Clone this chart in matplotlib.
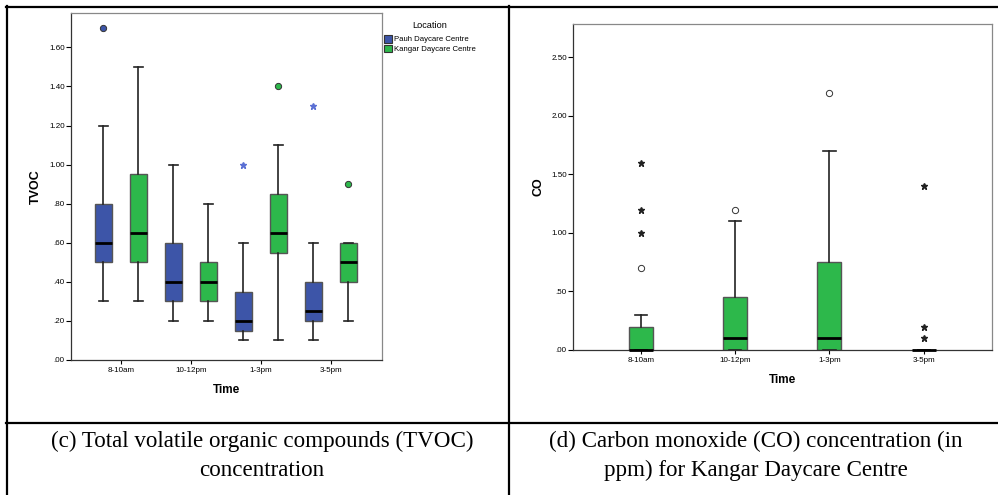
import numpy as np
import matplotlib.pyplot as plt
from matplotlib.lines import Line2D
from matplotlib.patches import Patch
from matplotlib.ticker import FuncFormatter

plt.rcParams['font.family'] = ['Liberation Sans', 'DejaVu Sans']

# 时间段
times = ['8-10am', '10-12pm', '1-3pm', '3-5pm']

# TVOC - Pauh Daycare Centre
pauh_low = [0.30, 0.20, 0.10, 0.10]
pauh_q1 = [0.50, 0.30, 0.15, 0.20]
pauh_med = [0.60, 0.40, 0.20, 0.25]
pauh_q3 = [0.80, 0.60, 0.35, 0.40]
pauh_high = [1.20, 1.00, 0.60, 0.60]
pauh_circles = [[1.70], [], [], []]
pauh_stars = [[], [], [1.00], [1.30]]

# TVOC - Kangar Daycare Centre
kangar_low = [0.30, 0.20, 0.10, 0.20]
kangar_q1 = [0.50, 0.30, 0.55, 0.40]
kangar_med = [0.65, 0.40, 0.65, 0.50]
kangar_q3 = [0.95, 0.50, 0.85, 0.60]
kangar_high = [1.50, 0.80, 1.10, 0.60]
kangar_circles = [[], [], [1.40], [0.90]]
kangar_stars = [[], [], [], []]

# CO - Kangar Daycare Centre
co_low = [0.0, 0.0, 0.0, 0.0]
co_q1 = [0.0, 0.0, 0.0, 0.0]
co_med = [0.0, 0.10, 0.10, 0.0]
co_q3 = [0.20, 0.45, 0.75, 0.0]
co_high = [0.30, 1.10, 1.70, 0.0]
co_circles = [[0.70], [1.20], [2.20], []]
co_stars = [[1.00, 1.20, 1.60], [], [], [0.10, 0.20, 1.40]]

tvoc_ticks = [0.0, 0.2, 0.4, 0.6, 0.8, 1.0, 1.2, 1.4, 1.6]
co_ticks = [0.0, 0.5, 1.0, 1.5, 2.0, 2.5]

blue = '#3d55a8'
green = '#2db84b'
star_blue = '#5b70d4'

def make_stats(low, q1, med, q3, high, circles):
    return [dict(whislo=a, q1=b, med=c, q3=d, whishi=e, fliers=f)
            for a, b, c, d, e, f in zip(low, q1, med, q3, high, circles)]

def spss_fmt(v, pos):
    s = '%.2f' % v
    if s.startswith('0'):
        s = s[1:]
    return s

def draw_box(ax, stats, pos, width, color, flier_face):
    ax.bxp(stats, positions=pos, widths=width, patch_artist=True,
           capwidths=0.13, manage_ticks=False,
           boxprops=dict(facecolor=color, edgecolor='#555555', linewidth=1),
           medianprops=dict(color='black', linewidth=2, clip_on=False, zorder=5),
           whiskerprops=dict(color='#222222', linewidth=1.2),
           capprops=dict(color='#222222', linewidth=1.2),
           flierprops=dict(marker='o', markersize=4.5, markerfacecolor=flier_face,
                           markeredgecolor='#333333', markeredgewidth=0.7))

def style_axes(ax):
    for s in ['top', 'right']:
        ax.spines[s].set_color('#888888')
    for s in ['left', 'bottom']:
        ax.spines[s].set_color('#333333')
    for s in ax.spines.values():
        s.set_linewidth(0.9)
    ax.tick_params(axis='y', length=3.5, width=0.8, labelsize=5.8, pad=1)
    ax.tick_params(axis='x', length=3, width=0.8, labelsize=5.8, pad=2)
    ax.yaxis.set_major_formatter(FuncFormatter(spss_fmt))

fig = plt.figure(figsize=(9.98, 4.95), dpi=100)
W, H = 998, 495

def px_axes(x0, y0, x1, y1):
    return fig.add_axes([x0 / W, 1 - y1 / H, (x1 - x0) / W, (y1 - y0) / H])

# (c) TVOC
x = np.arange(1, len(times) + 1)
ax1 = px_axes(71, 13, 382, 360)
draw_box(ax1, make_stats(pauh_low, pauh_q1, pauh_med, pauh_q3, pauh_high, pauh_circles),
         x - 0.25, 0.243, blue, blue)
draw_box(ax1, make_stats(kangar_low, kangar_q1, kangar_med, kangar_q3, kangar_high, kangar_circles),
         x + 0.25, 0.243, green, green)
for i, vals in enumerate(pauh_stars):
    ax1.plot([x[i] - 0.25] * len(vals), vals, linestyle='none', marker='*',
             markersize=4.5, color=star_blue)
for i, vals in enumerate(kangar_stars):
    ax1.plot([x[i] + 0.25] * len(vals), vals, linestyle='none', marker='*',
             markersize=4.5, color=green)
ax1.set_xlim(0.286, 4.73)
ax1.set_ylim(0, 1.776)
ax1.set_yticks(tvoc_ticks)
ax1.set_xticks(x)
ax1.set_xticklabels(times)
style_axes(ax1)
ax1.set_ylabel('TVOC', fontsize=9, fontweight='bold', labelpad=5)
ax1.set_xlabel('Time', fontsize=8.5, fontweight='bold', labelpad=7)

handles = [Patch(facecolor=blue, edgecolor='#333333', linewidth=0.8),
           Patch(facecolor=green, edgecolor='#333333', linewidth=0.8)]
leg = ax1.legend(handles, ['Pauh Daycare Centre', 'Kangar Daycare Centre'],
                 title='Location', loc='upper left', bbox_to_anchor=(1.0, 0.985),
                 frameon=False, fontsize=5.6, title_fontsize=6.6,
                 handlelength=1.0, handleheight=1.1, handletextpad=0.2,
                 labelspacing=0.2, borderaxespad=0.2, borderpad=0.1)
leg._legend_box.sep = 4

# (d) CO
ax2 = px_axes(573, 24, 992, 350)
draw_box(ax2, make_stats(co_low, co_q1, co_med, co_q3, co_high, co_circles),
         x, 0.255, green, 'white')
for i, vals in enumerate(co_stars):
    ax2.plot([x[i]] * len(vals), vals, linestyle='none', marker='*',
             markersize=4.5, color='#222222')
ax2.set_xlim(0.282, 4.724)
ax2.set_ylim(0, 2.786)
ax2.set_yticks(co_ticks)
ax2.set_xticks(x)
ax2.set_xticklabels(times)
style_axes(ax2)
ax2.set_ylabel('CO', fontsize=9, fontweight='bold', labelpad=5)
ax2.set_xlabel('Time', fontsize=8.5, fontweight='bold', labelpad=7)

# 表格线
def hline(y, x0, x1):
    fig.add_artist(Line2D([x0 / W, x1 / W], [1 - y / H, 1 - y / H],
                          transform=fig.transFigure, color='black', linewidth=1.6))

def vline(xp, y0, y1):
    fig.add_artist(Line2D([xp / W, xp / W], [1 - y0 / H, 1 - y1 / H],
                          transform=fig.transFigure, color='black', linewidth=1.6))

hline(7, 6, 998)
hline(422.5, 6, 998)
vline(7, 6, 495)
vline(509, 6, 495)

# 图注
cap_font = dict(family=['Liberation Serif', 'DejaVu Serif'], fontsize=16.6,
                ha='center', va='center')
fig.text(262 / W, 1 - 441 / H, '(c) Total volatile organic compounds (TVOC)', **cap_font)
fig.text(262 / W, 1 - 470 / H, 'concentration', **cap_font)
fig.text(756 / W, 1 - 441 / H, '(d) Carbon monoxide (CO) concentration (in', **cap_font)
fig.text(756 / W, 1 - 470 / H, 'ppm) for Kangar Daycare Centre', **cap_font)

fig.savefig('out.png', dpi=100)
